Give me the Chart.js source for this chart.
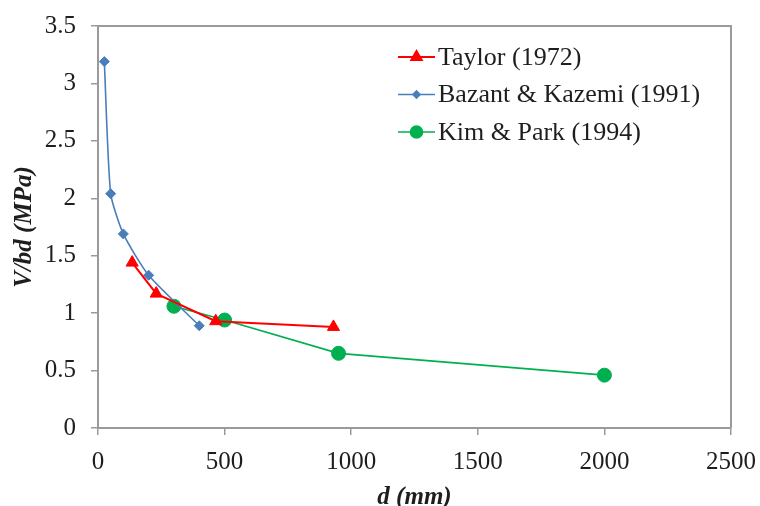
<!DOCTYPE html>
<html>
<head>
<meta charset="utf-8">
<script src="https://cdn.jsdelivr.net/npm/chart.js@4.4.1/dist/chart.umd.min.js"></script>
<style>
  html, body { margin: 0; padding: 0; background: #fff; }
  #wrap { width: 760px; height: 506px; }
</style>
</head>
<body>
<div id="wrap"><canvas id="chart" width="760" height="506"></canvas></div>
<script>
// Size effect on shear strength: V/bd vs d

const seriesNames = ["Taylor (1972)", "Bazant & Kazemi (1991)", "Kim & Park (1994)"];

const taylorD = [135, 230, 465, 930];
const taylorV = [1.44, 1.17, 0.93, 0.88];

const bazantD = [25, 50, 100, 200, 400];
const bazantV = [3.19, 2.04, 1.69, 1.33, 0.89];

const kimD = [300, 500, 950, 2000];
const kimV = [1.06, 0.94, 0.65, 0.46];

const xTicks = [0, 500, 1000, 1500, 2000, 2500];
const yTicks = [0, 0.5, 1, 1.5, 2, 2.5, 3, 3.5];

const FONT = "'Liberation Serif', 'Times New Roman', serif";
const AXIS = "#9a9a9a";

function toPoints(xs, ys) {
  return xs.map((x, i) => ({ x: x, y: ys[i] }));
}

// top + right sides of the plot frame
const framePlugin = {
  id: "frame",
  beforeDatasetsDraw(chart) {
    const { ctx, chartArea: a } = chart;
    ctx.save();
    ctx.strokeStyle = AXIS;
    ctx.lineWidth = 2;
    ctx.beginPath();
    ctx.moveTo(a.left, a.top);
    ctx.lineTo(a.right, a.top);
    ctx.lineTo(a.right, a.bottom);
    ctx.stroke();
    ctx.restore();
  },
};

// legend drawn inside the plot, top right
const legendPlugin = {
  id: "insideLegend",
  afterDraw(chart) {
    const ctx = chart.ctx;
    const x0 = 398, x1 = 435, rowY = 57, rowGap = 37.5;
    ctx.save();
    chart.data.datasets.forEach((ds, i) => {
      const y = rowY + i * rowGap;
      ctx.strokeStyle = ds.borderColor;
      ctx.lineWidth = ds.borderWidth;
      ctx.beginPath();
      ctx.moveTo(x0, y);
      ctx.lineTo(x1, y);
      ctx.stroke();
      ctx.fillStyle = ds.pointBackgroundColor;
      ctx.strokeStyle = ds.pointBorderColor;
      Chart.helpers.drawPoint(ctx, {
        pointStyle: ds.pointStyle,
        radius: ds.legendRadius,
        rotation: 0,
        borderWidth: 1,
      }, (x0 + x1) / 2, y);
      ctx.fillStyle = "#1e1e1e";
      ctx.font = "26px " + FONT;
      ctx.textAlign = "left";
      ctx.textBaseline = "middle";
      ctx.fillText(ds.label, x1 + 3, y + 1);
    });
    ctx.restore();
  },
};

new Chart(document.getElementById("chart"), {
  type: "scatter",
  data: {
    datasets: [
      {
        label: seriesNames[0],
        data: toPoints(taylorD, taylorV),
        showLine: true,
        borderColor: "#ff0000",
        borderWidth: 2,
        pointStyle: "triangle",
        pointRadius: 7,
        pointBackgroundColor: "#ff0000",
        pointBorderColor: "#ff0000",
        pointBorderWidth: 1,
        legendRadius: 6,
      },
      {
        label: seriesNames[1],
        data: toPoints(bazantD, bazantV),
        showLine: true,
        tension: 0.2,
        borderColor: "#4a7ebb",
        borderWidth: 1.6,
        pointStyle: "rectRot",
        pointRadius: 5,
        pointBackgroundColor: "#4a7ebb",
        pointBorderColor: "#4a7ebb",
        pointBorderWidth: 1,
        legendRadius: 3.5,
      },
      {
        label: seriesNames[2],
        data: toPoints(kimD, kimV),
        showLine: true,
        borderColor: "#00b050",
        borderWidth: 1.6,
        pointStyle: "circle",
        pointRadius: 7,
        pointBackgroundColor: "#00b050",
        pointBorderColor: "#00b050",
        pointBorderWidth: 1,
        legendRadius: 6,
      },
    ],
  },
  options: {
    responsive: false,
    animation: false,
    layout: { padding: { top: 26, right: 29, left: 0, bottom: 0 } },
    plugins: {
      legend: { display: false },
      tooltip: { enabled: false },
    },
    scales: {
      x: {
        type: "linear",
        min: 0,
        max: 2500,
        afterBuildTicks: (scale) => {
          scale.ticks = xTicks.map((v) => ({ value: v }));
        },
        afterFit: (scale) => {
          scale.height = 78;
          scale.paddingLeft = 0;
          scale.paddingRight = 0;
        },
        ticks: {
          color: "#1e1e1e",
          font: { family: FONT, size: 25 },
          padding: 12,
          maxRotation: 0,
          callback: (v) => String(v),
        },
        grid: {
          drawOnChartArea: false,
          drawTicks: true,
          tickLength: 7,
          color: AXIS,
          lineWidth: 1.5,
        },
        border: { color: AXIS, width: 2 },
        title: {
          display: true,
          text: "d (mm)",
          color: "#1e1e1e",
          font: { family: FONT, size: 25, weight: "bold", style: "italic", lineHeight: 0.7 },
          padding: 0,
        },
      },
      y: {
        type: "linear",
        min: 0,
        max: 3.5,
        afterBuildTicks: (scale) => {
          scale.ticks = yTicks.map((v) => ({ value: v }));
        },
        afterFit: (scale) => {
          scale.width = 98;
          scale.paddingTop = 0;
          scale.paddingBottom = 0;
        },
        ticks: {
          color: "#1e1e1e",
          font: { family: FONT, size: 25 },
          padding: 15,
          callback: (v) => String(v),
        },
        grid: {
          drawOnChartArea: false,
          drawTicks: true,
          tickLength: 7,
          color: AXIS,
          lineWidth: 1.5,
        },
        border: { color: AXIS, width: 2 },
        title: {
          display: true,
          text: "V/bd (MPa)",
          color: "#1e1e1e",
          font: { family: FONT, size: 25, weight: "bold", style: "italic", lineHeight: 2.0 },
          padding: 0,
        },
      },
    },
  },
  plugins: [framePlugin, legendPlugin],
});
</script>
</body>
</html>
